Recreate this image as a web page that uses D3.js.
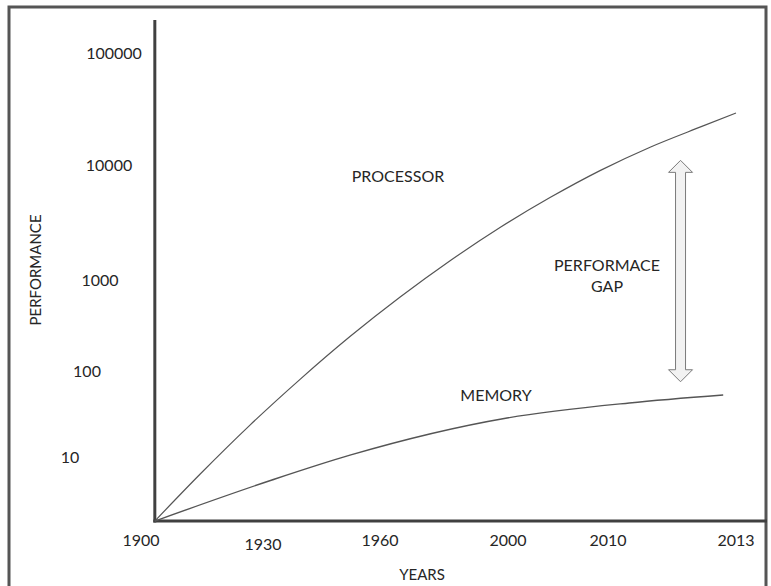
<!DOCTYPE html>
<html>
<head>
<meta charset="utf-8">
<script src="https://cdn.jsdelivr.net/npm/d3@7"></script>
<style>
  html, body { margin: 0; padding: 0; background: #ffffff; }
  svg { display: block; }
  text { font-family: Lato, "Open Sans", sans-serif; fill: #262626; }
</style>
</head>
<body>
<svg id="chart" width="771" height="586"></svg>
<script>
// ---- data ----
const yearLabels = [1900, 1930, 1960, 2000, 2010, 2013];
const perfTicks = [10, 100, 1000, 10000, 100000];

const processorYears  = [1903.4, 1914.5, 1926.8, 1939.5, 1952.3, 1966.3, 1981.9, 1997.5, 2004.2, 2009.2, 2011.0, 2012.2, 2013.0];
const processorValues = [1.8, 6.3, 23.5, 80, 239, 650, 1470, 2860, 5210, 8940, 14500, 22100, 29100];

const memoryYears  = [1903.4, 1932.3, 1952.3, 1999.7, 2010.5, 2012.7];
const memoryValues = [1.8, 5.4, 10.5, 28.4, 42.5, 52.6];

const originYear = 1903.4, originValue = 1.8;
const gapYear = 2011.7, gapTop = 11000, gapBottom = 75;

// ---- layout ----
const W = 771, H = 586;
const xRange = [141, 263, 380, 508, 608, 736];
const yRange = [457, 371, 280, 165, 53];
const axisTop = 20, axisRight = 767;
const xLabelY = 540, xLabelDy = [0, 4, 0, 0, 0, 0];
const yLabelX = [70, 87, 100, 109, 114];

const svg = d3.select("#chart");
svg.append("rect").attr("width", W).attr("height", H).attr("fill", "#fff");

// outer frame
svg.append("path")
  .attr("d", `M9,${H + 5} L9,7 L766,7 L766,${H + 5}`)
  .attr("fill", "none").attr("stroke", "#555").attr("stroke-width", 3);

const x = d3.scaleLinear().domain(yearLabels).range(xRange);
const y = d3.scaleLog().domain(perfTicks).range(yRange);

const ox = x(originYear), oy = y(originValue);

// axes lines
svg.append("line").attr("x1", ox).attr("x2", ox).attr("y1", axisTop).attr("y2", oy + 1.5)
  .attr("stroke", "#404040").attr("stroke-width", 3);
svg.append("line").attr("x1", ox - 1.5).attr("x2", axisRight).attr("y1", oy).attr("y2", oy)
  .attr("stroke", "#404040").attr("stroke-width", 3);

// x labels
svg.append("g").selectAll("text").data(yearLabels).join("text")
  .attr("x", d => x(d))
  .attr("y", (d, i) => xLabelY + xLabelDy[i])
  .attr("dy", "0.35em")
  .attr("text-anchor", "middle")
  .attr("font-size", 16)
  .text(d => d);

// y labels
svg.append("g").selectAll("text").data(perfTicks).join("text")
  .attr("x", (d, i) => yLabelX[i])
  .attr("y", d => y(d))
  .attr("dy", "0.35em")
  .attr("text-anchor", "middle")
  .attr("font-size", 16)
  .text(d => d);

// axis titles
svg.append("text").attr("x", 422).attr("y", 575).attr("dy", "0.35em")
  .attr("text-anchor", "middle").attr("font-size", 15).text("YEARS");
svg.append("text").attr("transform", "translate(36,270) rotate(-90)").attr("dy", "0.35em")
  .attr("text-anchor", "middle").attr("font-size", 15).text("PERFORMANCE");

// series lines
const line = d3.line().x(d => x(d[0])).y(d => y(d[1])).curve(d3.curveMonotoneX);
svg.append("path")
  .datum(processorYears.map((yr, i) => [yr, processorValues[i]]))
  .attr("d", line).attr("fill", "none").attr("stroke", "#555").attr("stroke-width", 1.2);
svg.append("path")
  .datum(memoryYears.map((yr, i) => [yr, memoryValues[i]]))
  .attr("d", line).attr("fill", "none").attr("stroke", "#555").attr("stroke-width", 1.4);

// series labels
svg.append("text").attr("x", 398).attr("y", 176).attr("dy", "0.35em")
  .attr("text-anchor", "middle").attr("font-size", 16).text("PROCESSOR");
svg.append("text").attr("x", 496).attr("y", 395).attr("dy", "0.35em")
  .attr("text-anchor", "middle").attr("font-size", 16).text("MEMORY");
svg.append("text").attr("x", 607).attr("y", 265).attr("dy", "0.35em")
  .attr("text-anchor", "middle").attr("font-size", 16).text("PERFORMACE");
svg.append("text").attr("x", 607).attr("y", 286).attr("dy", "0.35em")
  .attr("text-anchor", "middle").attr("font-size", 16).text("GAP");

// performance gap double arrow
const ax = x(gapYear), at = y(gapTop), ab = y(gapBottom);
const hw = 12, hl = 12, sw = 5;
const arrowPts = [
  [ax, at], [ax + hw, at + hl], [ax + sw, at + hl], [ax + sw, ab - hl], [ax + hw, ab - hl],
  [ax, ab], [ax - hw, ab - hl], [ax - sw, ab - hl], [ax - sw, at + hl], [ax - hw, at + hl]
];
svg.append("path")
  .attr("d", d3.line()(arrowPts) + "Z")
  .attr("fill", "#f2f2f2").attr("stroke", "#7a7a7a").attr("stroke-width", 1);
</script>
</body>
</html>
